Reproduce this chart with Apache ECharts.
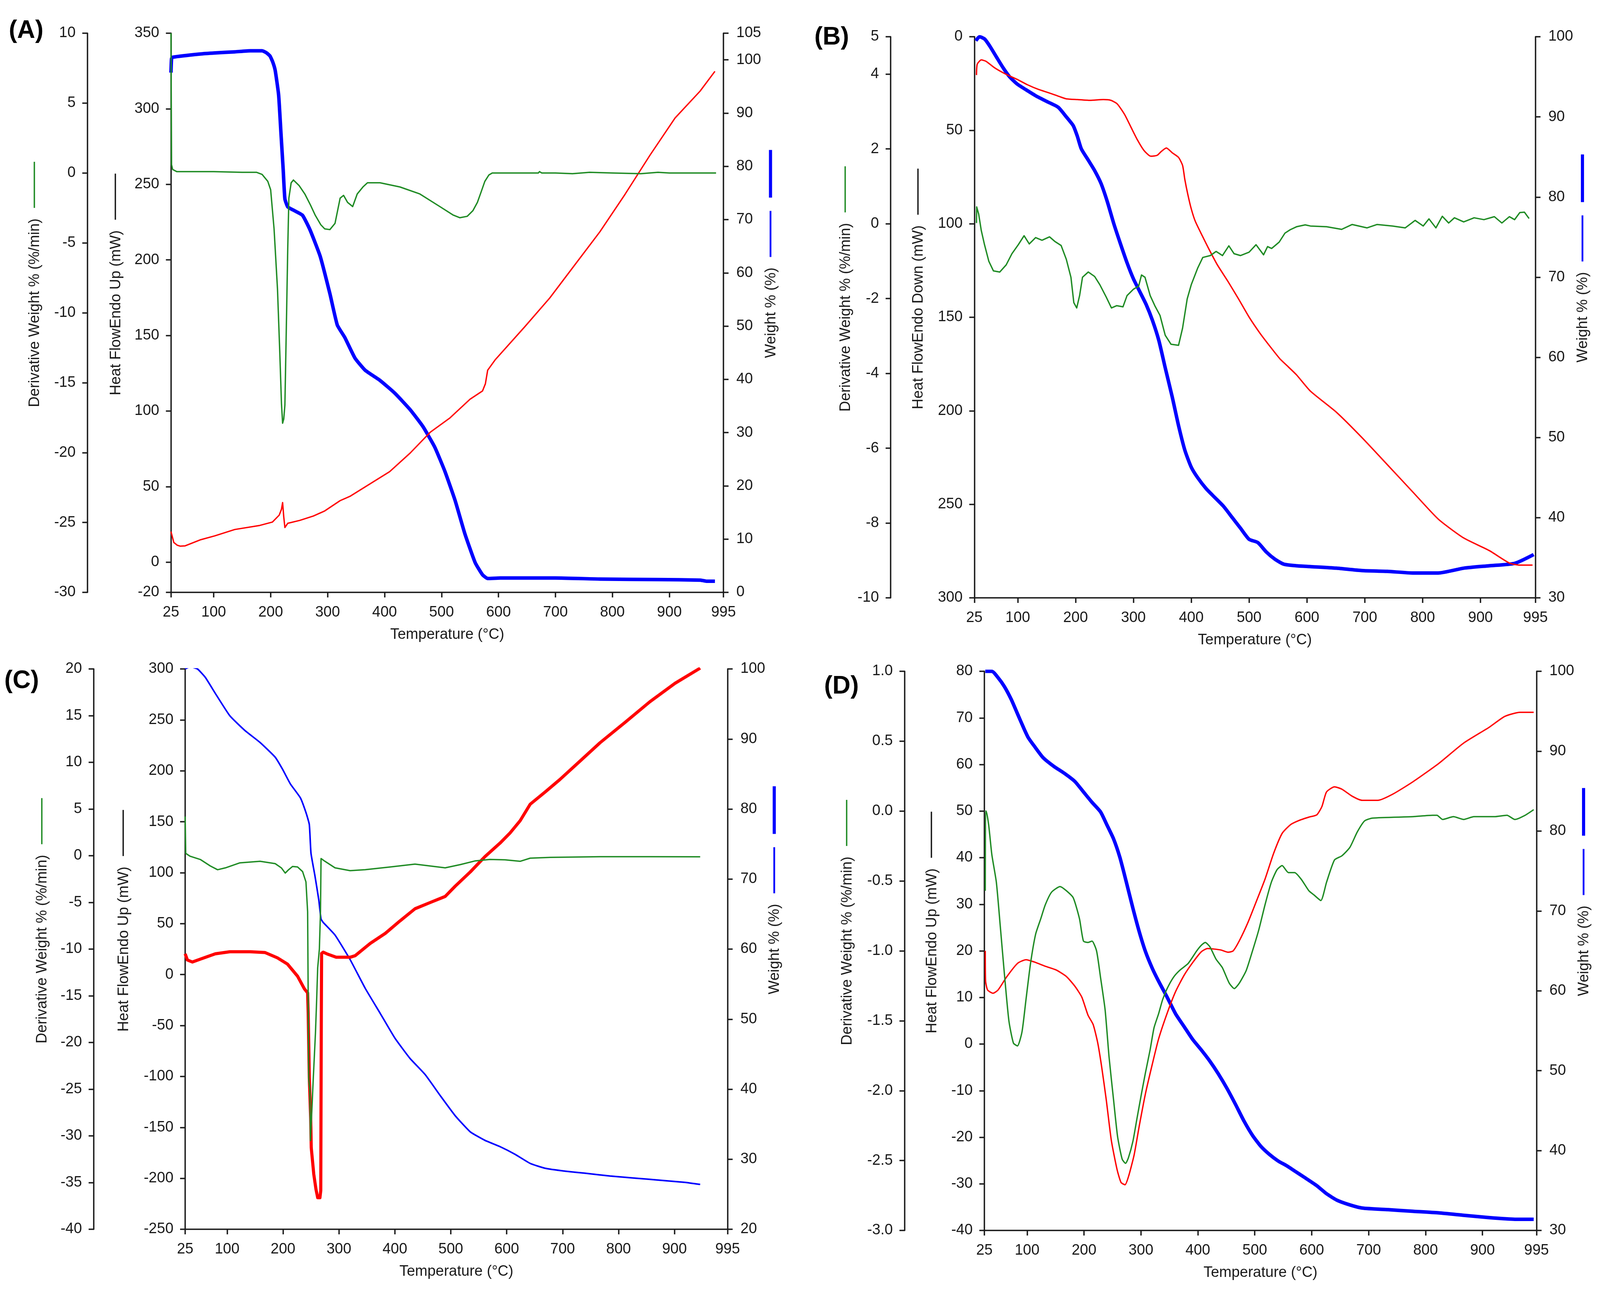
<!DOCTYPE html>
<html>
<head>
<meta charset="utf-8">
<title>TGA / DTG / DSC curves (A)-(D)</title>
<script src="https://cdn.jsdelivr.net/npm/echarts@6/dist/echarts.min.js"></script>
<style>
  html, body { margin: 0; padding: 0; background: #fff; overflow: hidden; }
  #chart { width: 4286px; height: 3304px; }
</style>
</head>
<body>
<div id="chart"></div>
<script>
// ---------- tick labels ----------
const tempTicks = [25, 100, 200, 300, 400, 500, 600, 700, 800, 900, 995];
const hfTicksA = [-20, 0, 50, 100, 150, 200, 250, 300, 350];
const wtTicksA = [0, 10, 20, 30, 40, 50, 60, 70, 80, 90, 100, 105];
const derivTicksB = [-10, -8, -6, -4, -2, 0, 2, 4, 5];

// ---------- (A) ----------  [temperature °C, value]
const derivA = [[25,10],[26,0.6],[28,0.25],[35,0.1],[100,0.1],[150,0.05],[175,0.05],[185,-0.1],[195,-0.6],[200,-1.2],[206,-4],[212,-8.3],[216,-12.8],[219,-16.5],[221,-17.9],[223,-17.6],[225,-16.6],[228,-10],[230,-5.4],[232,-1.8],[236,-0.7],[240,-0.5],[250,-0.9],[260,-1.5],[270,-2.3],[278,-3.0],[288,-3.7],[295,-4.0],[304,-4.05],[313,-3.6],[318,-2.6],[322,-1.8],[328,-1.6],[335,-2.1],[344,-2.4],[352,-1.5],[362,-1.0],[370,-0.7],[392,-0.7],[427,-1.0],[462,-1.5],[497,-2.4],[520,-3.0],[532,-3.2],[545,-3.1],[555,-2.7],[563,-2.1],[570,-1.3],[576,-0.6],[583,-0.15],[589,0],[670,0],[672,0.1],[676,0],[700,0],[730,-0.05],[760,0.05],[800,0],[850,-0.05],[880,0.05],[900,0],[982,0]];
const hfA = [[25,20.2],[30,13],[36,11.2],[41,10.6],[50,10.8],[76,14.7],[102,17.4],[137,21.6],[181,24.3],[203,26.5],[215,31.1],[219,35],[221,39.4],[223,30],[225,22.9],[230,25.7],[251,27.6],[275,30.5],[295,33.9],[322,40.7],[339,43.5],[374,51.7],[409,59.9],[445,72.2],[480,85.9],[515,95.5],[550,107.8],[572,113.3],[577,118],[581,127],[594,133.8],[646,155.7],[690,174.8],[734,196.7],[778,218.6],[822,243.3],[866,269.3],[910,293.9],[954,311.7],[980,324.8]];
const wtA = [[25,97.6],[26,100.2],[28,100.5],[76,101.1],[102,101.3],[137,101.5],[164,101.7],[185,101.7],[193,101.3],[199,100.7],[204,99.5],[208,98],[214,93.4],[218,86.4],[222,79.4],[225,73.9],[230,72.4],[243,71.6],[256,70.8],[269,68.1],[287,63.1],[304,56.1],[317,50.2],[330,47.9],[348,44.0],[366,41.7],[392,39.8],[418,37.4],[445,34.3],[467,31.2],[488,27.3],[506,22.7],[524,17.2],[541,11.0],[559,5.6],[572,3.3],[581,2.6],[603,2.7],[700,2.7],[778,2.5],[880,2.4],[954,2.3],[965,2.1],[980,2.1]];

// ---------- (B) ----------
const derivB = [[28.7,0.02],[29,0.45],[32.5,0.26],[37,-0.18],[42.6,-0.56],[50,-1.0],[58,-1.26],[69,-1.29],[80,-1.1],[90,-0.8],[101,-0.56],[111,-0.32],[120,-0.54],[131,-0.37],[142,-0.44],[155,-0.35],[164,-0.47],[175,-0.58],[184,-0.95],[192,-1.43],[197,-2.11],[202,-2.25],[207,-1.92],[212,-1.43],[222,-1.29],[233,-1.41],[242,-1.63],[253,-1.96],[262,-2.25],[271,-2.19],[282,-2.22],[289,-1.92],[300,-1.75],[309,-1.67],[314,-1.37],[320,-1.43],[329,-1.92],[337,-2.19],[346,-2.45],[355,-2.98],[365,-3.22],[378,-3.25],[385,-2.79],[393,-2.01],[400,-1.63],[411,-1.19],[420,-0.9],[433,-0.85],[443,-0.74],[454,-0.85],[465,-0.59],[474,-0.8],[485,-0.85],[500,-0.76],[512,-0.56],[525,-0.83],[532,-0.61],[539,-0.66],[552,-0.49],[562,-0.25],[571,-0.16],[582,-0.08],[597,-0.03],[606,-0.06],[634,-0.08],[660,-0.15],[678,-0.02],[704,-0.11],[721,-0.02],[748,-0.06],[770,-0.11],[787,0.09],[801,-0.06],[811,0.13],[823,-0.11],[834,0.2],[845,0.02],[855,0.16],[871,0.05],[889,0.16],[906,0.11],[924,0.19],[937,0.02],[950,0.19],[959,0.11],[968,0.3],[976,0.31],[984,0.14]];
const hfB = [[28.7,20.5],[30,14.7],[37,12.4],[45,13.1],[60,16.6],[80,20.1],[99,22.8],[117,25.7],[136,28.2],[155,30.1],[173,32.1],[184,33.2],[203,33.6],[225,34],[248,33.6],[261,34],[272,35.9],[285,41.7],[296,48.5],[307,55.2],[318,60.7],[330,63.9],[341,63.4],[348,61.4],[357,59.5],[367,62],[378,64.5],[385,68.8],[389,76.5],[394,84.2],[400,92],[407,98.7],[419,106.4],[430,113.2],[445,121.9],[463,130.6],[482,140.3],[500,149.9],[519,158.6],[538,166.3],[553,172.1],[564,175.4],[582,180.8],[606,189.5],[651,200.8],[695,214.3],[739,228.8],[783,243.4],[827,257.9],[871,268],[915,274.7],[950,281.4],[968,282.5],[990,282.5]];
const wtB = [[27.6,99.5],[34,100],[43,99.7],[52,98.8],[63,97.5],[75,96.1],[86,95],[99,94.1],[114,93.4],[132,92.6],[151,91.9],[170,91.2],[184,90],[196,88.9],[203,87.6],[210,86],[222,84.6],[233,83.3],[244,81.7],[255,79.4],[266,76.7],[277,74.3],[289,71.8],[300,69.8],[311,68.2],[322,66.6],[333,64.6],[344,62.1],[355,58.7],[367,55.1],[378,51.5],[389,48.4],[400,46.3],[411,45],[426,43.6],[441,42.5],[456,41.4],[471,40],[485,38.7],[500,37.3],[515,36.9],[530,35.7],[545,34.8],[560,34.2],[582,34],[605,33.9],[651,33.7],[695,33.4],[739,33.3],[783,33.1],[827,33.1],[871,33.7],[915,34],[959,34.3],[992,35.4]];

// ---------- (C) ----------
const derivC = [[25,4.2],[26,0.25],[34,-0.06],[52,-0.4],[70,-1.1],[83,-1.5],[97,-1.3],[123,-0.76],[159,-0.6],[186,-0.85],[197,-1.3],[204,-1.86],[210,-1.5],[217,-1.15],[226,-1.2],[235,-1.7],[241,-2.8],[244,-6],[246,-24],[248,-25],[249,-30.5],[251,-28],[254,-24],[258,-19],[260,-15.7],[262,-12],[265,-10],[266,-8],[267,-6],[268,-0.3],[275,-0.6],[293,-1.3],[320,-1.6],[347,-1.5],[392,-1.2],[436,-0.9],[463,-1.1],[490,-1.3],[517,-0.95],[544,-0.55],[570,-0.4],[597,-0.44],[624,-0.6],[642,-0.26],[678,-0.18],[767,-0.1],[856,-0.1],[946,-0.12]];
const hfC = [[25,20.4],[29,14.3],[38,12.3],[52,15.1],[79,20.4],[105,22.4],[141,22.4],[168,21.6],[190,16.4],[208,10.3],[226,-1.6],[238,-13.8],[244,-18],[245,-37],[247,-101],[249.5,-141],[250.5,-170],[255,-196],[259,-211],[262,-219],[266,-219],[267.5,-212],[268,-120],[268.5,-40],[269,20.8],[272,22],[280,20],[295,17],[320,17],[329,18.5],[356,30.6],[383,40.5],[409,52.6],[436,64.6],[463,70.7],[490,76.7],[508,86.8],[535,100.8],[561,115.7],[588,129],[606,139],[624,151],[642,167.2],[669,179.3],[695,191.4],[731,209.5],[767,227.6],[812,247.7],[856,267.8],[901,285.9],[946,300.8]];
const wtC = [[25,100],[34,100.3],[47,100],[61,98.8],[79,96.5],[105,93.3],[132,91.2],[159,89.5],[186,87.4],[199,85.7],[213,83.6],[231,81.6],[241,79.5],[247,77.8],[250,73.7],[257,70.5],[264,67],[268,64.3],[272,63.8],[293,62],[320,58.5],[347,54.4],[374,50.8],[400,47.3],[427,44.4],[454,42.1],[481,39.1],[508,36.2],[535,33.9],[561,32.7],[588,31.8],[615,30.7],[642,29.4],[669,28.7],[704,28.3],[740,28],[785,27.6],[830,27.3],[874,27],[919,26.7],[946,26.4]];

// ---------- (D) ----------
const derivD = [[26.5,-0.57],[27,0.0],[28,0.0],[32.5,-0.1],[38,-0.31],[46,-0.51],[53,-0.83],[60,-1.16],[68,-1.5],[76,-1.66],[83,-1.68],[91,-1.58],[98,-1.35],[106,-1.09],[115,-0.88],[124,-0.77],[132,-0.67],[143,-0.58],[158,-0.54],[169,-0.57],[181,-0.62],[192,-0.77],[199,-0.93],[207,-0.94],[214,-0.93],[222,-1.0],[229,-1.19],[237,-1.42],[244,-1.76],[252,-2.07],[259,-2.33],[267,-2.49],[273,-2.52],[278,-2.48],[286,-2.36],[293,-2.2],[301,-2.02],[308,-1.87],[316,-1.71],[323,-1.55],[331,-1.45],[338,-1.35],[346,-1.27],[357,-1.19],[368,-1.14],[383,-1.09],[398,-1.0],[406,-0.96],[413,-0.94],[421,-0.97],[432,-1.06],[443,-1.12],[455,-1.23],[464,-1.27],[473,-1.23],[485,-1.14],[496,-1.0],[507,-0.85],[518,-0.67],[529,-0.51],[539,-0.42],[548,-0.39],[559,-0.44],[570,-0.44],[582,-0.49],[595,-0.57],[604,-0.6],[616,-0.64],[626,-0.51],[640,-0.35],[653,-0.32],[667,-0.26],[680,-0.15],[693,-0.07],[707,-0.05],[778,-0.04],[812,-0.03],[820,-0.03],[830,-0.06],[849,-0.04],[867,-0.06],[885,-0.04],[921,-0.04],[943,-0.03],[957,-0.06],[975,-0.03],[990,0.01]];
const hfD = [[26.5,20],[27,13.6],[30.6,11.6],[40,10.9],[49,11.6],[64,14.4],[83,17.3],[98,18.1],[113,17.6],[132,16.7],[151,15.9],[169,14.5],[184,12.4],[196,10.1],[207,6.2],[216,4.2],[224,0.3],[231,-4.9],[239,-11.9],[248,-20.7],[258,-26.9],[265,-29.7],[272,-30.2],[278,-28.5],[288,-23.8],[297,-17.6],[308,-10.6],[320,-4.3],[331,1.1],[346,6.6],[361,11.3],[376,14.8],[391,17.5],[406,19.8],[417,20.5],[440,20.2],[453,19.7],[462,20],[473,22.2],[488,26.1],[503,30.7],[518,35.4],[533,40.9],[548,45.2],[563,47.1],[578,48],[595,48.7],[609,49.2],[618,51],[626,54.1],[640,55.2],[653,54.7],[671,53.2],[689,52.3],[716,52.3],[742,53.6],[778,56.3],[823,60.2],[867,64.6],[912,68],[939,70.3],[966,71.2],[990,71.2]];
const wtD = [[26.5,100],[38,100],[49,99.2],[60,98.1],[72,96.5],[83,94.7],[94,92.9],[102,91.7],[113,90.6],[128,89.2],[147,88.1],[166,87.2],[184,86.2],[199,84.9],[214,83.6],[229,82.4],[240,80.8],[252,79],[263,76.7],[274,73.7],[286,70.3],[297,67.4],[308,64.9],[320,62.8],[331,61.2],[346,59.2],[361,57.1],[376,55.5],[391,53.9],[406,52.6],[421,51.2],[436,49.6],[451,47.8],[466,45.8],[481,43.7],[496,41.9],[511,40.5],[526,39.5],[541,38.7],[556,38.1],[571,37.4],[586,36.7],[609,35.6],[626,34.6],[644,33.8],[667,33.2],[689,32.8],[734,32.6],[778,32.4],[823,32.2],[867,31.9],[912,31.6],[957,31.4],[990,31.4]];

// ---------- styling / layout ----------
const FONT = '"Liberation Sans", Arial, sans-serif';
const FS = 38;
const INK = '#1a1a1a';
const GREEN = '#1f8b24';
const RED = '#ff0000';
const BLUE = '#0000ff';

// the window may be narrower than the 4286px figure: squeeze horizontally only
const SX = Math.min(1, (window.innerWidth || 4286) / 4286);
const W = Math.round(4286 * SX), H = 3304;
const px = x => x * SX;

// smooth: [derivative, heat flow, weight]
const panels = [
  { tag: '(A)', tagPos: [70, 79], grid: { left: 458, top: 85, width: 1480, height: 1431 },
    derivX: 234, derivTitleX: 94, hfTitleX: 311, wtTitleX: 2066,
    deriv: { min: -30, max: 10, interval: 5 }, hf: { min: -20, max: 350, ticks: hfTicksA },
    wt: { min: 0, max: 105, ticks: wtTicksA }, hfName: 'Heat FlowEndo Up (mW)',
    series: [derivA, hfA, wtA], hfWidth: 3.5, wtWidth: 9, smooth: [0, 0, 0.15] },
  { tag: '(B)', tagPos: [2228, 96], grid: { left: 2610, top: 94, width: 1503, height: 1436 },
    derivX: 2386, derivTitleX: 2266, hfTitleX: 2461, wtTitleX: 4241,
    deriv: { min: -10, max: 5, ticks: derivTicksB }, hf: { min: 0, max: 300, interval: 50, inverse: true },
    wt: { min: 30, max: 100, interval: 10 }, hfName: 'Heat FlowEndo Down (mW)',
    series: [derivB, hfB, wtB], hfWidth: 3.5, wtWidth: 9, smooth: [0, 0.2, 0.2] },
  { tag: '(C)', tagPos: [58, 1743], grid: { left: 496, top: 1712, width: 1453, height: 1434 },
    derivX: 251, derivTitleX: 114, hfTitleX: 332, wtTitleX: 2076,
    deriv: { min: -40, max: 20, interval: 5 }, hf: { min: -250, max: 300, interval: 50 },
    wt: { min: 20, max: 100, interval: 10 }, hfName: 'Heat FlowEndo Up (mW)',
    series: [derivC, hfC, wtC], hfWidth: 8, wtWidth: 4, smooth: [0, 0, 0.15] },
  { tag: '(D)', tagPos: [2254, 1757], grid: { left: 2637, top: 1718, width: 1479, height: 1431 },
    derivX: 2423, derivTitleX: 2270, hfTitleX: 2497, wtTitleX: 4244,
    deriv: { min: -3, max: 1, interval: 0.5, decimals: 1 }, hf: { min: -40, max: 80, interval: 10 },
    wt: { min: 30, max: 100, interval: 10 }, hfName: 'Heat FlowEndo Up (mW)',
    series: [derivD, hfD, wtD], hfWidth: 3.5, wtWidth: 9, smooth: [0.2, 0.2, 0.2] }
];

// text width, used to put the short key strokes just above each axis title
const measureCtx = document.createElement('canvas').getContext('2d');
function textWidth(str, size) {
  measureCtx.font = size + 'px ' + FONT;
  return measureCtx.measureText(str).width;
}

function axisBase(extra) {
  const ax = {
    type: 'value',
    splitLine: { show: false },
    axisLine: { show: true, onZero: false, lineStyle: { color: INK, width: 3.5 } },
    axisTick: { show: true, length: 13, lineStyle: { color: INK, width: 3.5 } },
    axisLabel: { color: INK, fontSize: FS, fontFamily: FONT, margin: 30 }
  };
  return Object.assign(ax, extra);
}

function yAxisFor(gi, position, offset, cfg) {
  const ax = axisBase({ gridIndex: gi, position: position, offset: offset, min: cfg.min, max: cfg.max });
  if (cfg.inverse) ax.inverse = true;
  if (cfg.ticks) {
    ax.axisLabel.customValues = cfg.ticks;
    ax.axisTick.customValues = cfg.ticks;
  } else {
    ax.interval = cfg.interval;
  }
  if (cfg.decimals) {
    ax.axisLabel.formatter = v => v.toFixed(cfg.decimals);
  }
  if (position === 'right') ax.axisLabel.margin = 33;
  return ax;
}

const grids = [], xAxes = [], yAxes = [], series = [], graphics = [];

function vText(str, x, y) {
  graphics.push({ type: 'text', x: px(x), y: y, rotation: Math.PI / 2, silent: true,
    style: { text: str, font: FS + 'px ' + FONT, fill: INK, align: 'center', verticalAlign: 'middle' } });
}
function vStroke(x, y1, y2, color, w) {
  graphics.push({ type: 'line', silent: true, shape: { x1: px(x), y1: y1, x2: px(x), y2: y2 },
    style: { stroke: color, lineWidth: w } });
}

panels.forEach((p, gi) => {
  grids.push({ left: px(p.grid.left), top: p.grid.top, width: px(p.grid.width), height: p.grid.height });
  const midY = p.grid.top + p.grid.height / 2;
  const midX = p.grid.left + p.grid.width / 2;
  const bottom = p.grid.top + p.grid.height;

  xAxes.push(axisBase({
    gridIndex: gi, position: 'bottom', min: 25, max: 995,
    axisLabel: { color: INK, fontSize: FS, fontFamily: FONT, margin: 33, customValues: tempTicks },
    axisTick: { show: true, length: 13, customValues: tempTicks, lineStyle: { color: INK, width: 3.5 } }
  }));

  yAxes.push(yAxisFor(gi, 'left', px(p.grid.left - p.derivX), p.deriv));
  yAxes.push(yAxisFor(gi, 'left', 0, p.hf));
  yAxes.push(yAxisFor(gi, 'right', 0, p.wt));

  const base = gi * 3;
  const colors = [GREEN, RED, BLUE];
  const widths = [3.5, p.hfWidth, p.wtWidth];
  // weight drawn first, heat flow next, derivative on top
  [2, 1, 0].forEach(k => {
    series.push({
      type: 'line', xAxisIndex: gi, yAxisIndex: base + k, data: p.series[k],
      showSymbol: false, symbol: 'none', silent: true, animation: false, z: 2,
      smooth: p.smooth[k] || false,
      lineStyle: { color: colors[k], width: widths[k], join: 'round' },
      itemStyle: { color: colors[k] }
    });
  });

  // axis titles and their key strokes
  const derivName = 'Derivative Weight % (%/min)';
  const wtName = 'Weight % (%)';
  vText(derivName, p.derivTitleX, midY);
  vText(p.hfName, p.hfTitleX, midY);
  vText(wtName, p.wtTitleX, midY);

  const dTop = midY - textWidth(derivName, FS) / 2;
  vStroke(p.derivTitleX - 2, dTop - 145, dTop - 27, GREEN, 3.5);
  const hTop = midY - textWidth(p.hfName, FS) / 2;
  vStroke(p.hfTitleX - 2, hTop - 145, hTop - 27, INK, 3.5);
  const wTop = midY - textWidth(wtName, FS) / 2;
  vStroke(p.wtTitleX - 2, wTop - 145, wTop - 27, BLUE, 4.5);
  vStroke(p.wtTitleX - 2, wTop - 301, wTop - 179, BLUE, 8);

  graphics.push({ type: 'text', x: px(midX), y: bottom + 109, silent: true,
    style: { text: 'Temperature (°C)', font: FS + 'px ' + FONT, fill: INK, align: 'center', verticalAlign: 'middle' } });
  graphics.push({ type: 'text', x: px(p.tagPos[0]), y: p.tagPos[1], silent: true,
    style: { text: p.tag, font: 'bold 64px ' + FONT, fill: '#000', align: 'center', verticalAlign: 'middle' } });
});

const el = document.getElementById('chart');
el.style.width = W + 'px';
el.style.height = H + 'px';
const chart = echarts.init(el, null, { renderer: 'canvas', width: W, height: H });
chart.setOption({
  backgroundColor: '#ffffff',
  animation: false,
  grid: grids,
  xAxis: xAxes,
  yAxis: yAxes,
  series: series,
  graphic: { elements: graphics }
});
</script>
</body>
</html>
